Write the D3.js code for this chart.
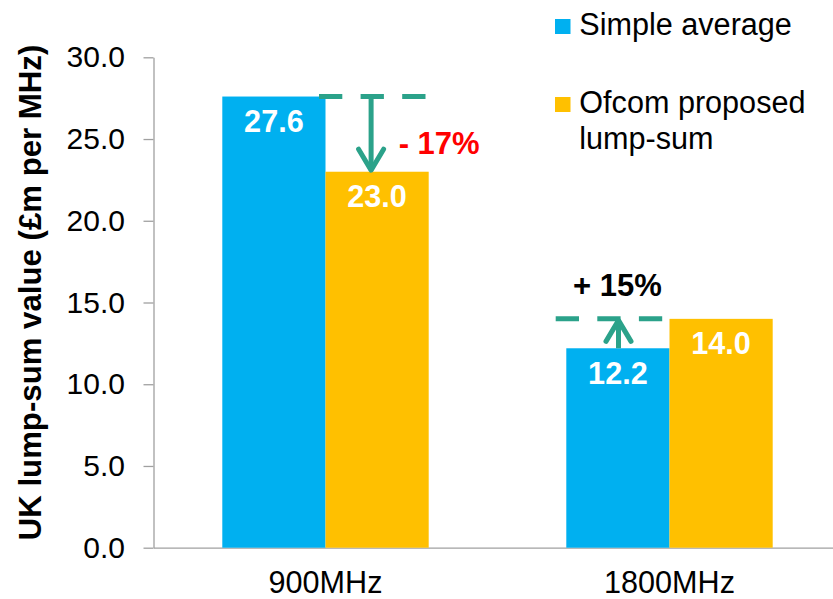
<!DOCTYPE html>
<html>
<head>
<meta charset="utf-8">
<script src="https://cdn.jsdelivr.net/npm/d3@7"></script>
<style>
  html, body { margin: 0; padding: 0; background: #fff; }
  svg { display: block; }
  text { font-family: "Liberation Sans", Arial, sans-serif; }
</style>
</head>
<body>
<svg id="chart" width="833" height="599"></svg>
<script>
// ---- data ----
const categories = ["900MHz", "1800MHz"];
const seriesNames = ["Simple average", "Ofcom proposed lump-sum"];
const simpleAverage = [27.6, 12.2];
const ofcomProposed = [23.0, 14.0];
const yTicks = [0, 5, 10, 15, 20, 25, 30];
const changeLabels = ["- 17%", "+ 15%"];
const changeColors = ["#FF0000", "#000000"];
const yTitle = "UK lump-sum value (£m per MHz)";

// ---- styling ----
const seriesColors = ["#00B0F0", "#FFC000"];
const teal = "#2BA28A";
const axisColor = "#A0A0A0";
const fontSize = 30.6;

const svg = d3.select("#chart");

const y = d3.scaleLinear().domain([0, 30]).range([547.7, 57.3]);
const x0 = d3.scaleBand().domain(categories).range([153.5, 841.5])
  .paddingInner(0.4).paddingOuter(0.2);
const x1 = d3.scaleBand().domain(d3.range(seriesNames.length))
  .range([0, x0.bandwidth()]);

const values = [simpleAverage, ofcomProposed];

// ---- y axis ----
const yAxis = svg.append("g")
  .attr("transform", `translate(${x0.range()[0]},0)`)
  .call(d3.axisLeft(y).tickValues(yTicks).tickFormat(d3.format(".1f"))
    .tickSize(10).tickSizeOuter(0).tickPadding(18.5));
yAxis.select(".domain").attr("stroke", axisColor).attr("stroke-width", 1.3);
yAxis.selectAll(".tick line").attr("stroke", axisColor).attr("stroke-width", 1.3);
yAxis.selectAll(".tick text")
  .attr("font-size", 30).attr("fill", "#000")
  .attr("font-family", "Liberation Sans, Arial, sans-serif");

// ---- x axis ----
const xAxis = svg.append("g")
  .attr("transform", `translate(0,${y(0)})`)
  .call(d3.axisBottom(x0).tickSize(0).tickSizeOuter(0).tickPadding(24));
xAxis.select(".domain").attr("stroke", axisColor).attr("stroke-width", 1.3);
xAxis.selectAll(".tick text")
  .attr("font-size", fontSize).attr("fill", "#000")
  .attr("font-family", "Liberation Sans, Arial, sans-serif");

// ---- y title ----
svg.append("text")
  .attr("transform", `translate(41,292.5) rotate(-90)`)
  .attr("text-anchor", "middle")
  .attr("font-size", 31.2).attr("font-weight", "bold")
  .text(yTitle);

// ---- bars ----
const groups = svg.append("g").selectAll("g")
  .data(categories).join("g")
  .attr("transform", d => `translate(${x0(d)},0)`);

groups.selectAll("rect")
  .data((d, i) => values.map((s, k) => ({ k, v: s[i] })))
  .join("rect")
  .attr("x", d => x1(d.k))
  .attr("width", x1.bandwidth())
  .attr("y", d => y(d.v))
  .attr("height", d => y(0) - y(d.v))
  .attr("fill", d => seriesColors[d.k]);

groups.selectAll("text.val")
  .data((d, i) => values.map((s, k) => ({ k, v: s[i] })))
  .join("text")
  .attr("class", "val")
  .attr("x", d => x1(d.k) + x1.bandwidth() / 2)
  .attr("y", d => y(d.v) + 35.5)
  .attr("text-anchor", "middle")
  .attr("font-size", fontSize).attr("font-weight", "bold")
  .attr("fill", "#fff")
  .text(d => d3.format(".1f")(d.v));

// ---- change annotations ----
const ann = svg.append("g");
categories.forEach((c, i) => {
  const a = simpleAverage[i], b = ofcomProposed[i];
  const hi = Math.max(a, b);
  const lowIdx = a < b ? 0 : 1;
  const lowCenter = x0(c) + x1(lowIdx) + x1.bandwidth() / 2;
  const lineCenter = lowCenter + (lowIdx === 1 ? -4.6 : -8.7);
  const arrowX = lowCenter + (lowIdx === 1 ? -6 : 0.6);
  const lineY = y(hi);

  ann.append("line")
    .attr("x1", lineCenter - 53.5).attr("x2", lineCenter + 53.5)
    .attr("y1", lineY).attr("y2", lineY)
    .attr("stroke", teal).attr("stroke-width", 5)
    .attr("stroke-dasharray", "23.3 18.3");

  const yFrom = y(a), yTo = y(b);
  const dir = yTo > yFrom ? 1 : -1;
  const tip = yTo - dir * 1.5;
  ann.append("line")
    .attr("x1", arrowX).attr("x2", arrowX)
    .attr("y1", yFrom).attr("y2", tip)
    .attr("stroke", teal).attr("stroke-width", 5);
  ann.append("polyline")
    .attr("points", [[arrowX - 12.5, tip - dir * 21], [arrowX, tip], [arrowX + 12.5, tip - dir * 21]].map(p => p.join(",")).join(" "))
    .attr("fill", "none").attr("stroke", teal).attr("stroke-width", 5)
    .attr("stroke-linecap", "round").attr("stroke-linejoin", "round");

  const t = ann.append("text")
    .attr("font-size", 31).attr("font-weight", "bold")
    .attr("fill", changeColors[i])
    .text(changeLabels[i]);
  if (lowIdx === 1) {
    t.attr("x", x0(c) + x1(1) + x1.bandwidth() - 30).attr("y", y((a + b) / 2) + 20)
      .attr("text-anchor", "start");
  } else {
    t.attr("x", lowCenter - 0.5).attr("y", lineY - 22.5).attr("text-anchor", "middle");
  }
});

// ---- legend ----
const legendLines = [["Simple average"], ["Ofcom proposed", "lump-sum"]];
const legend = svg.append("g");
const legendY = [34.5, 112.5];
seriesNames.forEach((name, k) => {
  legend.append("rect")
    .attr("x", 555).attr("y", legendY[k] - 15.5)
    .attr("width", 15.5).attr("height", 15)
    .attr("fill", seriesColors[k]);
  const tx = legend.append("text")
    .attr("x", 579.3).attr("y", legendY[k])
    .attr("font-size", fontSize).attr("fill", "#000");
  legendLines[k].forEach((ln, j) => {
    tx.append("tspan").attr("x", 579.3).attr("dy", j === 0 ? 0 : 36.7).text(ln);
  });
});
</script>
</body>
</html>
